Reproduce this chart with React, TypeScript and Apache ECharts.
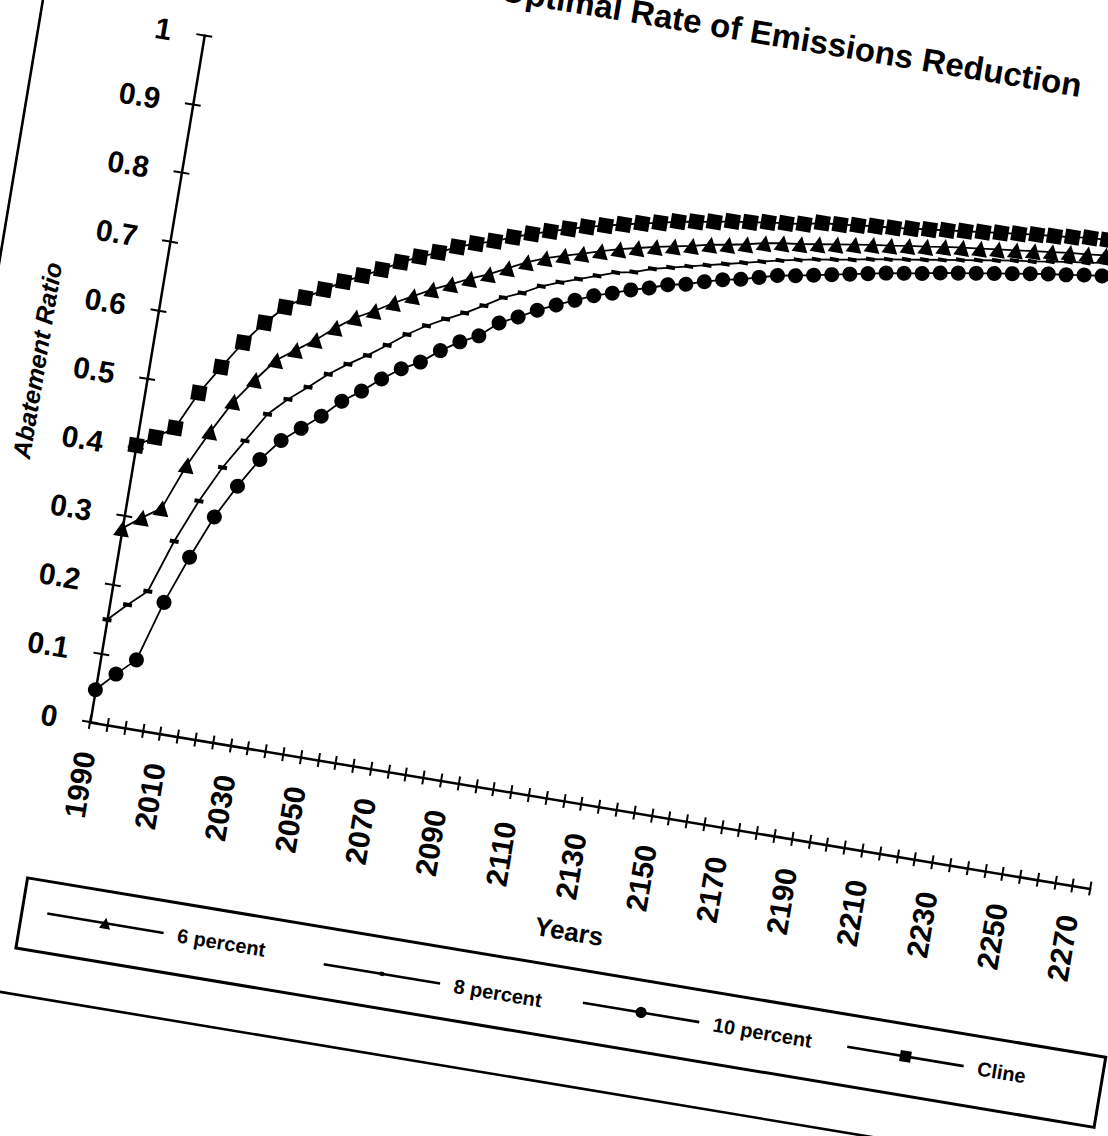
import React, { useEffect, useRef } from "react";
import * as echarts from "echarts";

const years = [
  "1990", "1995", "2000", "2005", "2010", "2015", "2020", "2025", "2030", "2035",
  "2040", "2045", "2050", "2055", "2060", "2065", "2070", "2075", "2080", "2085",
  "2090", "2095", "2100", "2105", "2110", "2115", "2120", "2125", "2130", "2135",
  "2140", "2145", "2150", "2155", "2160", "2165", "2170", "2175", "2180", "2185",
  "2190", "2195", "2200", "2205", "2210", "2215", "2220", "2225", "2230", "2235",
  "2240", "2245", "2250", "2255", "2260", "2265", "2270", "2275",
];

const sixPercent = [
  0.282, 0.302, 0.32, 0.387, 0.44, 0.488, 0.524, 0.557, 0.576, 0.595,
  0.617, 0.636, 0.65, 0.666, 0.68, 0.694, 0.706, 0.718, 0.729, 0.742,
  0.755, 0.765, 0.773, 0.78, 0.788, 0.795, 0.801, 0.807, 0.812, 0.817,
  0.823, 0.827, 0.832, 0.838, 0.842, 0.845, 0.849, 0.853, 0.857, 0.861,
  0.864, 0.868, 0.871, 0.875, 0.878, 0.881, 0.884, 0.887, 0.89, 0.893,
  0.896, 0.898, 0.901, 0.903, 0.905, 0.907, 0.909, 0.911,
];

const eightPercent = [
  0.149, 0.175, 0.199, 0.276, 0.339, 0.392, 0.435, 0.478, 0.504, 0.526,
  0.549, 0.568, 0.585, 0.604, 0.624, 0.641, 0.655, 0.668, 0.683, 0.699,
  0.71, 0.724, 0.734, 0.743, 0.752, 0.761, 0.766, 0.775, 0.781, 0.787,
  0.793, 0.799, 0.805, 0.811, 0.817, 0.822, 0.827, 0.831, 0.835, 0.84,
  0.844, 0.848, 0.852, 0.856, 0.86, 0.864, 0.868, 0.872, 0.875, 0.879,
  0.883, 0.886, 0.89, 0.893, 0.896, 0.899, 0.902, 0.905,
];

const tenPercent = [
  0.047, 0.074, 0.099, 0.187, 0.257, 0.32, 0.369, 0.412, 0.444, 0.466,
  0.488, 0.514, 0.533, 0.555, 0.574, 0.588, 0.609, 0.626, 0.639, 0.662,
  0.675, 0.689, 0.701, 0.712, 0.723, 0.731, 0.74, 0.747, 0.756, 0.761,
  0.769, 0.776, 0.781, 0.788, 0.795, 0.799, 0.804, 0.809, 0.814, 0.819,
  0.824, 0.828, 0.832, 0.837, 0.841, 0.845, 0.849, 0.853, 0.857, 0.861,
  0.864, 0.868, 0.871, 0.874, 0.877, 0.88, 0.883, 0.886,
];

const cline = [
  0.403, 0.419, 0.437, 0.492, 0.534, 0.574, 0.607, 0.634, 0.652, 0.668,
  0.684, 0.697, 0.71, 0.725, 0.737, 0.748, 0.76, 0.769, 0.777, 0.787,
  0.796, 0.804, 0.812, 0.819, 0.825, 0.831, 0.837, 0.842, 0.848, 0.852,
  0.856, 0.861, 0.864, 0.868, 0.871, 0.874, 0.88, 0.882, 0.885, 0.888,
  0.89, 0.893, 0.896, 0.899, 0.902, 0.905, 0.908, 0.911, 0.914, 0.916,
  0.919, 0.922, 0.923, 0.925, 0.927, 0.929, 0.931, 0.933,
];

const seriesNames = ["6 percent", "8 percent", "10 percent", "Cline"];
const titleText = "Optimal Rate of Emissions Reduction";
const xAxisName = "Years";
const yAxisName = "Abatement Ratio";

const FONT = '"Liberation Sans", Arial, Helvetica, sans-serif';
const INK = "#000";

export default function App() {
  const ref = useRef<HTMLDivElement>(null);

  useEffect(() => {
    if (!ref.current) return;
    const chart = echarts.init(ref.current, null, { renderer: "svg" });

    const lineCommon = {
      type: "line",
      showAllSymbol: true,
      xAxisIndex: 0,
      yAxisIndex: 0,
      lineStyle: { color: INK, width: 1.8 },
      itemStyle: { color: INK },
      emphasis: { disabled: true },
    };

    const legendCommon = {
      orient: "horizontal",
      padding: 0,
      itemGap: 0,
      itemWidth: 118,
      itemHeight: 14,
      top: 1086,
      selectedMode: false,
      lineStyle: { width: 2.6 },
      textStyle: {
        fontSize: 20,
        fontWeight: "bold",
        fontFamily: FONT,
        color: INK,
        padding: [0, 0, 0, 9],
      },
    };

    const axisText = { fontWeight: "bold", fontFamily: FONT, color: INK };

    chart.setOption({
      animation: false,
      backgroundColor: "#fff",
      title: {
        text: titleText,
        left: 485,
        top: 93,
        padding: 0,
        textStyle: { fontSize: 33, ...axisText },
      },
      grid: { left: 200, top: 204, width: 1014, height: 696, containLabel: false },
      xAxis: [
        {
          type: "category",
          data: years,
          boundaryGap: false,
          axisLine: { lineStyle: { color: INK, width: 2.5 } },
          axisTick: { show: true, interval: 0, length: 7, lineStyle: { color: INK, width: 2 } },
          axisLabel: { interval: 3, rotate: 90, margin: 30, fontSize: 30, ...axisText },
          splitLine: { show: false },
          name: xAxisName,
          nameLocation: "middle",
          nameGap: 115,
          nameTextStyle: { fontSize: 26, ...axisText },
        },
        {
          type: "category",
          data: years,
          boundaryGap: false,
          position: "bottom",
          axisLine: { show: false },
          axisTick: { show: true, inside: true, interval: 0, length: 7, lineStyle: { color: INK, width: 2 } },
          axisLabel: { show: false },
          splitLine: { show: false },
        },
      ],
      yAxis: [
        {
          type: "value",
          min: 0,
          max: 1,
          interval: 0.1,
          axisLine: { show: true, lineStyle: { color: INK, width: 2.5 } },
          axisTick: { show: true, length: 8, lineStyle: { color: INK, width: 2 } },
          axisLabel: { margin: 33, fontSize: 30, ...axisText },
          splitLine: { show: false },
          name: yAxisName,
          nameLocation: "middle",
          nameGap: 99,
          nameTextStyle: { fontSize: 25, fontStyle: "italic", ...axisText },
        },
        {
          type: "value",
          min: 0,
          max: 1,
          interval: 0.1,
          position: "left",
          offset: 0,
          axisLine: { show: false },
          axisTick: { show: true, inside: true, length: 8, lineStyle: { color: INK, width: 2 } },
          axisLabel: { show: false },
          splitLine: { show: false },
        },
      ],
      legend: [
        { ...legendCommon, data: [seriesNames[0]], left: 188 },
        { ...legendCommon, data: [seriesNames[1]], left: 469, itemHeight: 5, top: 1090.5 },
        { ...legendCommon, data: [seriesNames[2]], left: 731 },
        { ...legendCommon, data: [seriesNames[3]], left: 999 },
      ],
      graphic: [
        {
          type: "rect",
          shape: { x: 164, y: 1064, width: 1093, height: 71 },
          style: { fill: "none", stroke: INK, lineWidth: 3 },
          silent: true,
        },
        {
          type: "polyline",
          shape: { points: [[35, 0], [35, 1181], [1345, 1181]] },
          style: { fill: "none", stroke: INK, lineWidth: 2.6 },
          silent: true,
        },
      ],
      series: [
        { ...lineCommon, name: seriesNames[0], data: sixPercent, symbol: "triangle", symbolSize: 16 },
        { ...lineCommon, name: seriesNames[1], data: eightPercent, symbol: "rect", symbolSize: [9, 4] },
        { ...lineCommon, name: seriesNames[2], data: tenPercent, symbol: "circle", symbolSize: 15 },
        { ...lineCommon, name: seriesNames[3], data: cline, symbol: "rect", symbolSize: 15 },
      ],
    });

    return () => chart.dispose();
  }, []);

  return (
    <div
      style={{
        position: "fixed",
        left: 0,
        top: 0,
        width: 1108,
        height: 1136,
        overflow: "hidden",
        background: "#fff",
      }}
    >
      <div
        ref={ref}
        style={{
          position: "absolute",
          left: -110,
          top: -178,
          width: 1350,
          height: 1200,
          transformOrigin: "200px 900px",
          transform: "rotate(9.45deg)",
        }}
      />
    </div>
  );
}
